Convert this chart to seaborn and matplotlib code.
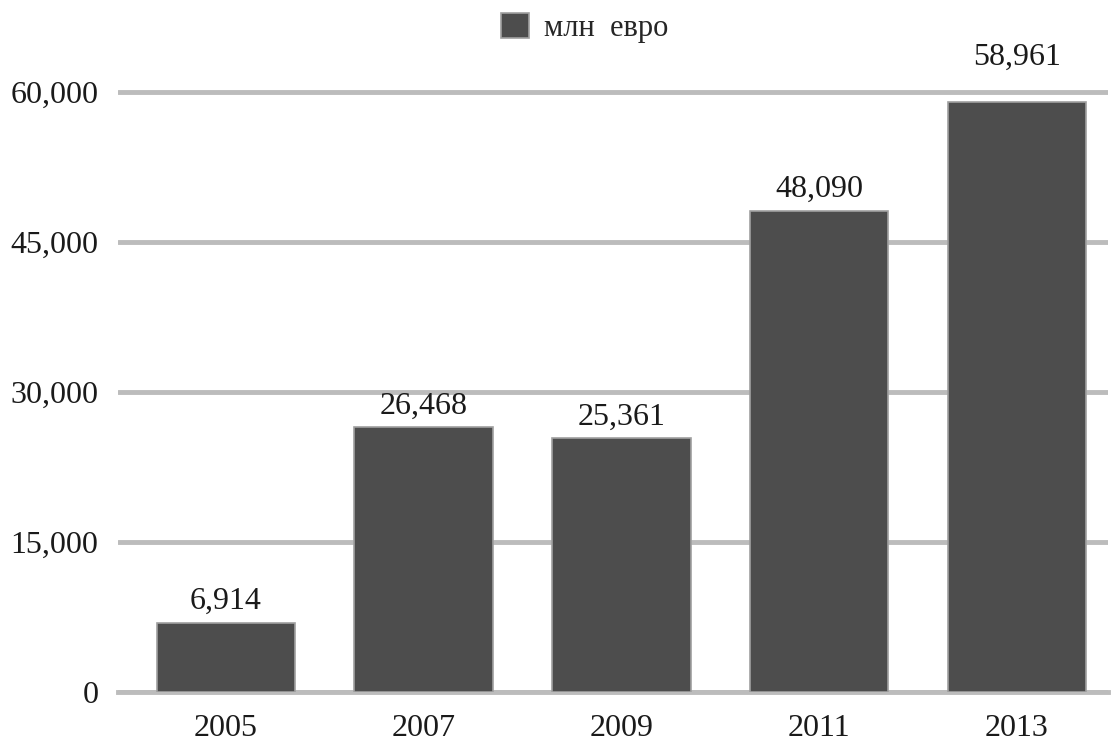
import pandas as pd
import seaborn as sns
import matplotlib.pyplot as plt

years = ["2005", "2007", "2009", "2011", "2013"]
values = [6914, 26468, 25361, 48090, 58961]
series_name = "млн  евро"
yticks = [0, 15000, 30000, 45000, 60000]

df = pd.DataFrame({"year": years, "value": values, "series": series_name})

sns.set_style("white")
plt.rcParams['font.family'] = ['Liberation Serif', 'DejaVu Serif']

fig = plt.figure(figsize=(11.13, 7.42), dpi=100)
ax = fig.add_axes([118 / 1113, 50 / 742, 990 / 1113, 650 / 742])

sns.barplot(data=df, x="year", y="value", hue="series", palette=["#4d4d4d"],
            width=0.70, ax=ax, edgecolor="#a0a0a0", linewidth=1.2, zorder=3)

ax.set_ylim(0, 65000)
ax.set_xlim(-0.545, 4.46)
ax.set_yticks(yticks)
ax.set_yticklabels([f"{v:,}" for v in yticks])
ax.yaxis.grid(True, color="#bcbcbc", linewidth=3.5, zorder=0)
ax.set_axisbelow(True)
ax.tick_params(axis="y", length=0, pad=14, labelsize=23, labelcolor="#1a1a1a")
ax.tick_params(axis="x", length=0, pad=16, labelsize=23, labelcolor="#1a1a1a")
ax.set_xlabel("")
ax.set_ylabel("")

for name in ["top", "right", "left"]:
    ax.spines[name].set_visible(False)
ax.spines["bottom"].set_color("#bcbcbc")
ax.spines["bottom"].set_linewidth(3.5)

for cont in ax.containers:
    texts = ax.bar_label(cont, labels=[f"{v:,}" for v in values], padding=5,
                         fontsize=23, color="#1a1a1a")
    # the top label sits higher, clear of the 60,000 grid line
    texts[-1].xyann = (0, 22)

sns.move_legend(ax, "center", bbox_to_anchor=(585 / 1113, 1 - 28 / 742),
                bbox_transform=fig.transFigure, title=None, frameon=False,
                fontsize=22, handlelength=0.9, handleheight=0.9, handletextpad=0.5)

plt.savefig("out.png", dpi=100)
